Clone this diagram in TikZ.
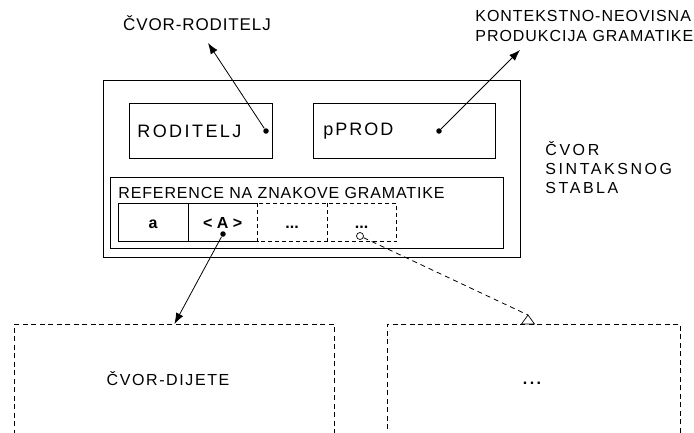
\documentclass[tikz,border=0pt]{standalone}
\usepackage{fontspec}
\setmainfont{Liberation Sans}
\usetikzlibrary{arrows.meta}
% size, baselineskip, letter spacing
\newcommand\tfont[3]{\fontsize{#1}{#2}\selectfont\addfontfeature{LetterSpace=#3}}
\newcommand\dts{...}

\begin{document}
\begin{tikzpicture}[x=1pt,y=-1pt,line width=0.8pt,
  every node/.style={inner sep=0pt},
  box/.style={draw,rectangle,anchor=north west},
  dbox/.style={box,dash pattern=on 5pt off 3.5pt},
  cell/.style={rectangle,anchor=north west,minimum width=69.5,minimum height=38,
    text height=13pt,text depth=0pt,font=\bfseries\tfont{16}{18}{0}},
  dot/.style={circle,fill,minimum size=5.5pt},
  odot/.style={circle,draw,line width=0.7pt,minimum size=7pt},
  ptr/.style={-{Latex[length=11pt,width=8pt]}}]
  \useasboundingbox (0,0) rectangle (694,432);
  \clip (0,0) rectangle (694,432);

  % cvor sintaksnog stabla
  \node[box,minimum width=417,minimum height=177] (outer) at (103,80) {};
  \node[box,minimum width=143,minimum height=55,text width=127,inner xsep=8,
    align=left,font=\tfont{18}{20}{13.5}] (parent) at (129,103) {RODITELJ};
  \node[box,minimum width=182,minimum height=55,text width=162,inner xsep=10,
    align=left,font=\tfont{18}{20}{11}] (prod) at (313,103) {pPROD};
  \node[box,minimum width=393,minimum height=71] (refs) at (110,177) {};
  \node[anchor=base west,font=\tfont{16}{18}{5.4}] (reftitle) at (118,198)
    {REFERENCE NA ZNAKOVE GRAMATIKE};

  % reference cells
  \foreach \i/\x/\t in {1/118/a,2/187.5/{< A >},3/257/\dts,4/326.5/\dts}
    \node[cell] (c\i) at (\x,203) {\t};
  \draw (c2.north east) -- (c1.north west) -- (c1.south west) -- (c2.south east);
  \draw (c1.north east) -- (c1.south east);
  \draw[dash pattern=on 4pt off 3pt] (c2.north east) rectangle (c4.south east);
  \draw[dash pattern=on 4pt off 3pt] (c3.north east) -- (c3.south east);

  \node[dot] (pdot) at (266,131) {};
  \node[dot] (gdot) at (439,131) {};
  \node[dot] (adot) at (223,234) {};
  \node[odot] (edot) at (360,236) {};

  % labels
  \node[font=\tfont{17}{18}{5.2}] (plabel) at (197,23) {ČVOR-RODITELJ};
  \node[anchor=west,align=left,font=\tfont{16}{20.7}{6}] (glabel) at (475,26)
    {KONTEKSTNO-NEOVISNA\\PRODUKCIJA GRAMATIKE};
  \node[anchor=west,align=left,font=\tfont{16}{18.8}{16}] (slabel) at (545,167.5)
    {ČVOR\\SINTAKSNOG\\STABLA};
  \coordinate (ptip) at (208,43);
  \coordinate (gtip) at (520,50);
  \draw[ptr] (pdot) -- (ptip);
  \draw[ptr] (gdot) -- (gtip);

  % djeca
  \node[dbox,minimum width=320,minimum height=130] (child) at (14,324) {};
  \node[dbox,minimum width=293,minimum height=130] (other) at (387,324) {};
  \node[font=\tfont{16}{18}{10}] (childtxt) at (168,379) {ČVOR-DIJETE};
  \node[font=\bfseries\tfont{16}{16}{15}] (othertxt) at (532,383) {\dts};
  \draw[ptr] (adot) -- (child.north);
  \coordinate (tri) at (528,315);
  \draw[dash pattern=on 5pt off 4pt] (edot) -- (tri);
  \draw[line width=0.7pt] (tri) -- ++(-6.5,9) -- ++(13,0) -- cycle;
\end{tikzpicture}
\end{document}
